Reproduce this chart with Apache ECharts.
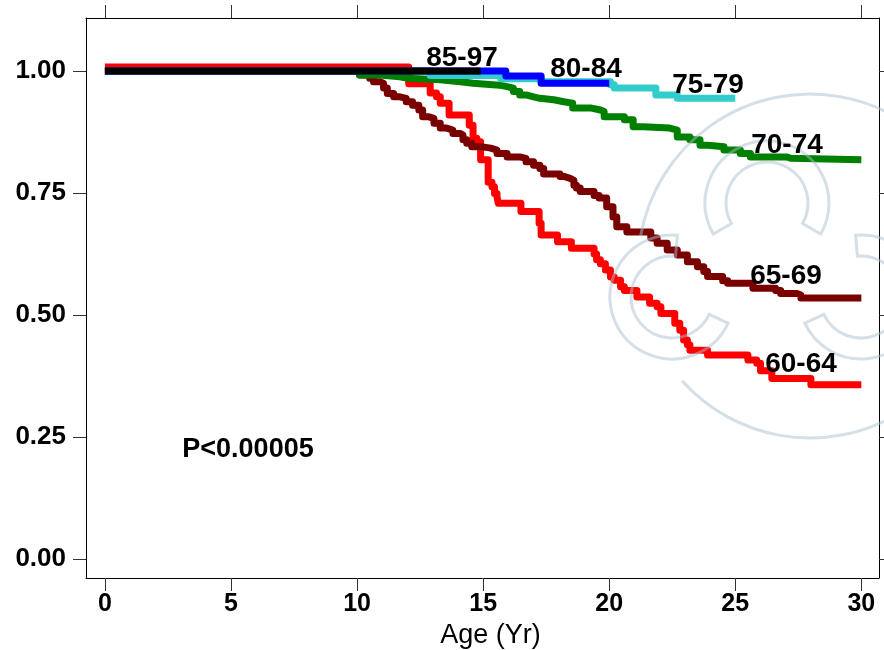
<!DOCTYPE html>
<html>
<head>
<meta charset="utf-8">
<script src="https://cdn.jsdelivr.net/npm/echarts@6/dist/echarts.min.js"></script>
<style>
  html, body { margin: 0; padding: 0; background: #ffffff; }
  #chart { width: 884px; height: 650px; }
</style>
</head>
<body>
<div id="chart"></div>
<script>
// Kaplan-Meier survival by age group at entry (step curves)
const xTicks = [0, 5, 10, 15, 20, 25, 30];
const yTicks = [0, 0.25, 0.5, 0.75, 1];

const groupNames = ['60-64', '65-69', '70-74', '75-79', '80-84', '85-97'];
const groupColors = ['#ff0000', '#7a0000', '#008000', '#33cccc', '#0000ff', '#000000'];

const time6064 = [0, 12.05, 12.9, 13.15, 13.3, 13.65, 14.45, 14.6, 14.75, 14.9,
  15.2, 15.35, 15.45, 15.55, 15.6, 16.5, 17.22, 17.3, 17.95, 18.5,
  19.4, 19.5, 19.65, 19.85, 20.05, 20.2, 20.45, 20.6, 21.1, 21.6,
  21.9, 22.05, 22.6, 22.8, 22.95, 23.1, 23.2, 23.9, 25.5, 25.85,
  26.0, 26.45, 28.0, 30.0];
const surv6064 = [1.008, 0.974, 0.955, 0.947, 0.934, 0.910, 0.889, 0.862, 0.855, 0.818,
  0.772, 0.763, 0.749, 0.742, 0.729, 0.712, 0.688, 0.664, 0.650, 0.637,
  0.625, 0.613, 0.605, 0.592, 0.578, 0.571, 0.558, 0.550, 0.537, 0.524,
  0.517, 0.503, 0.483, 0.469, 0.449, 0.439, 0.428, 0.418, 0.408, 0.401,
  0.386, 0.370, 0.357, 0.357];

const time6569 = [0, 10.1, 10.5, 10.65, 10.9, 11.05, 11.2, 11.45, 11.7, 11.95,
  12.2, 12.45, 12.6, 12.85, 13.05, 13.3, 13.55, 13.8, 14.1, 14.2,
  14.35, 14.55, 14.9, 15.3, 15.55, 15.95, 16.45, 16.7, 17.0, 17.25,
  17.4, 18.05, 18.2, 18.45, 18.6, 18.7, 18.85, 19.4, 19.6, 19.9,
  20.15, 20.3, 20.7, 21.65, 21.9, 22.3, 22.7, 23.1, 23.5, 23.75,
  23.9, 24.5, 24.7, 25.7, 26.6, 26.8, 27.45, 27.6, 30];
const surv6569 = [1.0, 0.992, 0.985, 0.978, 0.975, 0.965, 0.954, 0.947, 0.944, 0.937,
  0.930, 0.920, 0.906, 0.903, 0.893, 0.883, 0.879, 0.872, 0.869, 0.859,
  0.852, 0.845, 0.842, 0.838, 0.831, 0.824, 0.821, 0.814, 0.807, 0.800,
  0.789, 0.784, 0.780, 0.776, 0.766, 0.760, 0.753, 0.745, 0.740, 0.722,
  0.701, 0.681, 0.670, 0.658, 0.647, 0.633, 0.623, 0.609, 0.599, 0.589,
  0.579, 0.570, 0.565, 0.555, 0.550, 0.544, 0.541, 0.535, 0.535];

const time7074 = [0, 10.1, 10.9, 11.7, 12.0, 13.3, 14.1, 14.6, 15.65, 15.95,
  16.2, 16.45, 16.7, 17.0, 17.25, 17.8, 18.2, 18.55, 19.3, 19.65,
  19.8, 20.6, 20.95, 21.35, 22.4, 22.7, 23.2, 23.6, 23.9, 24.55,
  25.2, 25.6, 27.05, 27.2, 30];
const surv7074 = [1.0, 0.992, 0.988, 0.985, 0.982, 0.978, 0.975, 0.971, 0.968, 0.965,
  0.958, 0.951, 0.947, 0.944, 0.941, 0.937, 0.934, 0.924, 0.920, 0.917,
  0.906, 0.900, 0.886, 0.883, 0.879, 0.865, 0.859, 0.848, 0.845, 0.838,
  0.831, 0.824, 0.821, 0.818, 0.818];

const time7579 = [0, 12.9, 15.7, 17.3, 20.05, 20.2, 21.85, 22.7, 25.0];
const surv7579 = [1.0, 0.991, 0.984, 0.978, 0.972, 0.965, 0.951, 0.944, 0.944];

const time8084 = [0, 15.9, 17.3, 20.0];
const surv8084 = [1.0, 0.990, 0.975, 0.975];

const time8597 = [0, 14.9];
const surv8597 = [1.0, 1.0];

const groupTimes = [time6064, time6569, time7074, time7579, time8084, time8597];
const groupSurv = [surv6064, surv6569, surv7074, surv7579, surv8084, surv8597];

const pValueText = 'P<0.00005';
const xTitle = 'Age (Yr)';

const FONT = '"Liberation Sans", Arial, Helvetica, sans-serif';
const chart = echarts.init(document.getElementById('chart'), null, { renderer: 'canvas' });

const series = groupNames.map((name, i) => ({
  name: name,
  type: 'line',
  step: 'end',
  showSymbol: false,
  symbol: 'none',
  clip: true,
  silent: true,
  lineStyle: { color: groupColors[i], width: 7, join: 'round', cap: 'butt' },
  data: groupTimes[i].map((t, k) => [t, groupSurv[i][k]])
}));

// group labels next to the curve tails
const groupLabelPos = [[801, 364], [786, 276], [787, 145], [708, 85], [586, 69], [462, 58]];
const textEls = groupNames.map((name, i) => ({
  type: 'text',
  x: groupLabelPos[i][0],
  y: groupLabelPos[i][1],
  z: 120,
  style: {
    text: name,
    fill: '#000',
    font: 'bold 28px ' + FONT,
    textAlign: 'center',
    textVerticalAlign: 'middle'
  }
}));
textEls.push({
  type: 'text', x: 248, y: 450, z: 120,
  style: { text: pValueText, fill: '#000', font: 'bold 27px ' + FONT, textAlign: 'center', textVerticalAlign: 'middle' }
});

// faint emblem in the background of the right half
const markStroke = 'rgba(170,192,205,0.5)';
const deg = Math.PI / 180;
const emblem = [
  { type: 'arc', z: 110, shape: { cx: 810, cy: 266, r: 172, startAngle: 190 * deg, endAngle: 498 * deg, clockwise: true },
    style: { stroke: markStroke, lineWidth: 3, fill: null } },
  { type: 'sector', z: 110, shape: { cx: 767, cy: 203, r0: 41, r: 62, startAngle: 150 * deg, endAngle: 390 * deg, clockwise: true },
    style: { stroke: markStroke, lineWidth: 3, fill: 'none' } },
  { type: 'sector', z: 110, shape: { cx: 672, cy: 297, r0: 41, r: 62, startAngle: 25 * deg, endAngle: 275 * deg, clockwise: true },
    style: { stroke: markStroke, lineWidth: 3, fill: 'none' } },
  { type: 'sector', z: 110, shape: { cx: 861, cy: 297, r0: 41, r: 62, startAngle: 265 * deg, endAngle: 515 * deg, clockwise: true },
    style: { stroke: markStroke, lineWidth: 3, fill: 'none' } }
];

const tickStyle = { color: '#333', width: 1 };
const frameLine = { show: true, onZero: false, lineStyle: { color: '#000', width: 1 } };

const option = {
  backgroundColor: '#ffffff',
  animation: false,
  grid: { left: 86, right: 5, top: 18, bottom: 72, containLabel: false, outerBoundsMode: 'none' },
  xAxis: [
    {
      type: 'value', position: 'bottom', min: -0.75, max: 30.7,
      axisLine: frameLine,
      axisTick: { show: true, inside: false, length: 13, customValues: xTicks, lineStyle: tickStyle },
      axisLabel: { show: true, customValues: xTicks, margin: 14, color: '#000', fontSize: 25, fontWeight: 'bold', fontFamily: FONT },
      splitLine: { show: false },
      name: xTitle, nameLocation: 'middle', nameGap: 37,
      nameTextStyle: { color: '#000', fontSize: 27, fontFamily: FONT, fontWeight: 'normal', padding: [0, 0, 0, 16] }
    },
    {
      type: 'value', position: 'top', min: -0.75, max: 30.7,
      axisLine: frameLine,
      axisTick: { show: true, inside: false, length: 13, customValues: xTicks, lineStyle: tickStyle },
      axisLabel: { show: false },
      splitLine: { show: false }
    }
  ],
  yAxis: [
    {
      type: 'value', position: 'left', min: -0.0389, max: 1.1086,
      axisLine: frameLine,
      axisTick: { show: true, inside: false, length: 13, customValues: yTicks, lineStyle: tickStyle },
      axisLabel: { show: true, customValues: yTicks, margin: 20, color: '#000', fontSize: 26, fontWeight: 'bold', fontFamily: FONT,
        padding: [7, 0, 0, 0], formatter: v => v.toFixed(2) },
      splitLine: { show: false }
    },
    {
      type: 'value', position: 'right', min: -0.0389, max: 1.1086,
      axisLine: frameLine,
      axisTick: { show: true, inside: false, length: 13, customValues: yTicks, lineStyle: tickStyle },
      axisLabel: { show: false },
      splitLine: { show: false }
    }
  ],
  series: series,
  graphic: { elements: emblem.concat(textEls) }
};

chart.setOption(option);
</script>
</body>
</html>
